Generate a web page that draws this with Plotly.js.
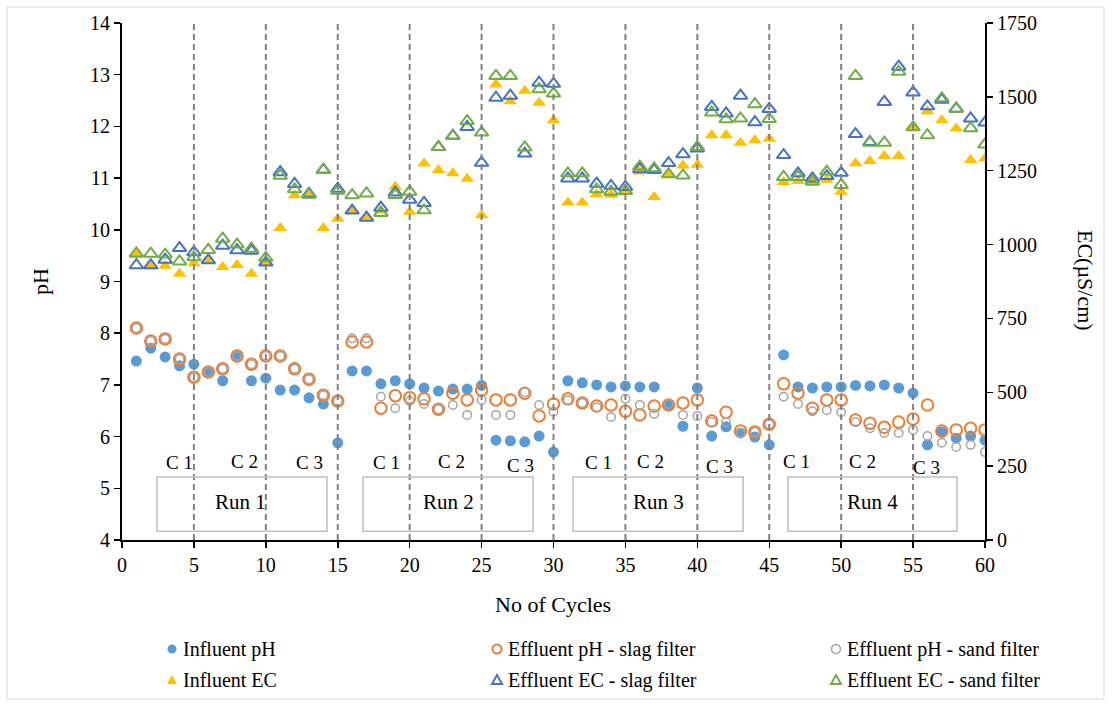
<!DOCTYPE html>
<html>
<head>
<meta charset="utf-8">
<script src="https://cdn.plot.ly/plotly-3.0.1.min.js"></script>
<style>
  html, body { margin: 0; padding: 0; background: #fff; }
  #chart { width: 1117px; height: 705px; }
</style>
</head>
<body>
<div id="chart"></div>
<script>
// Cycle numbers (x axis)
const cycles = [1,2,3,4,5,6,7,8,9,10,11,12,13,14,15,16,17,18,19,20,
  21,22,23,24,25,26,27,28,29,30,31,32,33,34,35,36,37,38,39,40,
  41,42,43,44,45,46,47,48,49,50,51,52,53,54,55,56,57,58,59,60];

// pH series (left axis)
const influentPH = [7.46,7.71,7.54,7.37,7.40,7.25,7.08,7.56,7.08,7.13,
  6.90,6.90,6.75,6.63,5.88,7.27,7.27,7.02,7.08,7.02,
  6.94,6.88,6.92,6.92,6.99,5.93,5.92,5.90,6.01,5.70,
  7.08,7.04,7.00,6.96,6.98,6.96,6.96,6.61,6.20,6.94,
  6.01,6.19,6.07,5.99,5.84,7.58,6.96,6.94,6.96,6.96,
  6.99,6.98,7.00,6.94,6.84,5.84,6.09,5.97,6.01,5.93];
const slagPH = [8.10,7.85,7.89,7.50,7.15,7.25,7.31,7.56,7.40,7.56,
  7.56,7.31,7.11,6.80,6.69,7.83,7.83,6.55,6.79,6.75,
  6.73,6.53,6.84,6.71,6.90,6.71,6.71,6.84,6.40,6.63,
  6.73,6.65,6.59,6.61,6.49,6.42,6.59,6.61,6.65,6.71,
  6.30,6.47,6.11,6.09,6.24,7.02,6.84,6.55,6.71,6.71,
  6.32,6.26,6.18,6.28,6.34,6.61,6.11,6.13,6.16,6.13];
const sandPH = [8.10,7.85,7.89,7.50,7.15,7.25,7.31,7.56,7.40,7.56,
  7.56,7.31,7.11,6.80,6.69,7.90,7.90,6.77,6.55,6.69,
  6.63,6.53,6.61,6.42,6.71,6.42,6.42,6.86,6.61,6.48,
  6.71,6.65,6.57,6.38,6.73,6.61,6.44,6.63,6.42,6.40,
  6.28,6.28,6.07,6.09,6.24,6.77,6.63,6.49,6.51,6.47,
  6.28,6.16,6.07,6.07,6.13,6.01,5.88,5.80,5.84,5.70];

// EC series in µS/cm (right axis)
const influentEC = [965,927,928,901,937,948,924,931,901,939,
  1056,1167,1165,1056,1087,1116,1094,1115,1196,1111,
  1274,1252,1241,1223,1099,1542,1485,1521,1480,1421,
  1142,1142,1170,1169,1180,1247,1161,1239,1268,1270,
  1370,1370,1345,1353,1358,1212,1215,1214,1219,1179,
  1275,1283,1300,1300,1395,1451,1421,1393,1286,1291];
const slagEC = [930,930,949,988,974,947,996,981,979,939,
  1245,1205,1172,1253,1189,1115,1091,1125,1176,1152,
  1141,1330,1368,1398,1277,1497,1504,1308,1548,1544,
  1224,1224,1206,1199,1195,1255,1252,1276,1306,1325,
  1466,1444,1504,1414,1459,1303,1241,1224,1232,1243,
  1374,1347,1483,1602,1515,1468,1490,1460,1427,1413];
const sandEC = [970,969,966,943,957,982,1020,1000,986,955,
  1233,1187,1169,1253,1182,1167,1173,1107,1168,1179,
  1116,1330,1368,1418,1379,1571,1571,1329,1526,1511,
  1241,1241,1187,1179,1181,1264,1258,1238,1234,1331,
  1447,1424,1427,1475,1425,1229,1229,1213,1247,1202,
  1571,1345,1345,1585,1397,1370,1495,1460,1394,1339];

// Run / cycle-block labels
const runLabels = ['Run 1','Run 2','Run 3','Run 4'];
const cycleLabels = ['C 1','C 2','C 3'];
const seriesNames = ['Influent pH','Effluent pH - slag filter','Effluent pH - sand filter',
  'Influent EC','Effluent EC - slag filter','Effluent EC - sand filter'];

const FONT = '"Liberation Serif", "Times New Roman", serif';
const C = {
  blue: '#5B9BD5', orange: '#ED7D31', grey: '#A5A5A5',
  gold: '#FFC000', navy: '#4472C4', green: '#70AD47'
};

const traces = [
  { x: cycles, y: influentPH, name: seriesNames[0], type: 'scatter', mode: 'markers',
    marker: { symbol: 'circle', size: 11, color: C.blue } },
  { x: cycles, y: slagPH, name: seriesNames[1], type: 'scatter', mode: 'markers',
    marker: { symbol: 'circle-open', size: 11.5, color: C.orange, line: { width: 2, color: C.orange } } },
  { x: cycles, y: sandPH, name: seriesNames[2], type: 'scatter', mode: 'markers',
    marker: { symbol: 'circle-open', size: 8.5, color: C.grey, line: { width: 1.5, color: C.grey } } },
  { x: cycles, y: influentEC, name: seriesNames[3], type: 'scatter', mode: 'markers', yaxis: 'y2',
    marker: { symbol: 'triangle-up', size: 12, color: C.gold } },
  { x: cycles, y: slagEC, name: seriesNames[4], type: 'scatter', mode: 'markers', yaxis: 'y2',
    marker: { symbol: 'triangle-up-open', size: 12, color: C.navy, line: { width: 2, color: C.navy } } },
  { x: cycles, y: sandEC, name: seriesNames[5], type: 'scatter', mode: 'markers', yaxis: 'y2',
    marker: { symbol: 'triangle-up-open', size: 12, color: C.green, line: { width: 2, color: C.green } } }
];

const shapes = [];
const annotations = [];

// Chart-area frame
shapes.push({ type: 'rect', xref: 'paper', yref: 'paper', layer: 'below',
  x0: (7 - 122) / 863, x1: (1104 - 122) / 863, y0: (540 - 7) / 517, y1: (540 - 699) / 517,
  line: { color: '#D9D9D9', width: 1 } });

// Dashed separators between cycle blocks
for (let v = 5; v <= 55; v += 5) {
  shapes.push({ type: 'line', xref: 'x', yref: 'paper', x0: v, x1: v, y0: 0, y1: 1,
    line: { color: '#808080', width: 2, dash: '6px,4px' } });
}

// Run boxes with labels
const runBoxes = [[2.43, 14.25], [16.76, 28.58], [31.36, 43.18], [46.30, 58.05]];
const runCentres = [8.27, 22.67, 37.27, 52.2];
runBoxes.forEach((b, i) => {
  shapes.push({ type: 'rect', xref: 'x', yref: 'y', x0: b[0], x1: b[1], y0: 4.17, y1: 5.22,
    line: { color: '#BFBFBF', width: 1.5 }, fillcolor: 'rgba(255,255,255,0)' });
  annotations.push({ xref: 'x', yref: 'y', x: runCentres[i], y: 4.73, text: runLabels[i],
    xanchor: 'center', yanchor: 'middle',
    showarrow: false, font: { family: FONT, size: 21, color: '#000' } });
});

// C 1 / C 2 / C 3 labels above each run box
const cPos = [
  [[4.03, 5.49], [8.55, 5.51], [13.07, 5.49]],
  [[18.36, 5.49], [22.94, 5.51], [27.74, 5.45]],
  [[33.16, 5.49], [36.71, 5.51], [41.51, 5.43]],
  [[46.86, 5.51], [51.45, 5.51], [55.90, 5.41]]
];
cPos.forEach(run => run.forEach((p, j) => {
  annotations.push({ xref: 'x', yref: 'y', x: p[0], y: p[1], text: cycleLabels[j],
    xanchor: 'center', yanchor: 'middle',
    showarrow: false, font: { family: FONT, size: 19, color: '#000' } });
}));

// Axis titles
const px2x = px => (px - 122) / 863;
const px2y = py => (540 - py) / 517;
annotations.push({ xref: 'paper', yref: 'paper', x: px2x(553), y: px2y(604), text: 'No of Cycles',
  xanchor: 'center', yanchor: 'middle',
  showarrow: false, font: { family: FONT, size: 22, color: '#000' } });
annotations.push({ xref: 'paper', yref: 'paper', x: px2x(40), y: px2y(282), text: 'pH', textangle: -90,
  xanchor: 'center', yanchor: 'middle',
  showarrow: false, font: { family: FONT, size: 22, color: '#000' } });
annotations.push({ xref: 'paper', yref: 'paper', x: px2x(1086), y: px2y(280), text: 'EC(µS/cm)', textangle: 90,
  xanchor: 'center', yanchor: 'middle',
  showarrow: false, font: { family: FONT, size: 22, color: '#000' } });

// Legend (two rows of three entries)
const legendCols = [172, 497, 836];
const legendRows = [649, 680];
const legendMarks = [
  { kind: 'circle', fill: C.blue, line: C.blue, w: 0 },
  { kind: 'circle', fill: 'rgba(0,0,0,0)', line: C.orange, w: 2 },
  { kind: 'circle', fill: 'rgba(0,0,0,0)', line: C.grey, w: 1.5 },
  { kind: 'tri', fill: C.gold, line: C.gold, w: 0 },
  { kind: 'tri', fill: 'rgba(0,0,0,0)', line: C.navy, w: 2 },
  { kind: 'tri', fill: 'rgba(0,0,0,0)', line: C.green, w: 2 }
];
legendMarks.forEach((m, i) => {
  const cx = legendCols[i % 3], cy = legendRows[Math.floor(i / 3)];
  const base = { xref: 'paper', yref: 'paper', xsizemode: 'pixel', ysizemode: 'pixel',
    xanchor: px2x(cx), yanchor: px2y(cy), fillcolor: m.fill,
    line: { color: m.line, width: m.w } };
  if (m.kind === 'circle') {
    shapes.push(Object.assign({ type: 'circle', x0: -4.5, x1: 4.5, y0: -4.5, y1: 4.5 }, base));
  } else {
    shapes.push(Object.assign({ type: 'path', path: 'M-5,-4 L5,-4 L0,5 Z' }, base));
  }
  annotations.push({ xref: 'paper', yref: 'paper', x: px2x(cx + 9), y: px2y(cy),
    xanchor: 'left', yanchor: 'middle',
    text: seriesNames[i], showarrow: false, font: { family: FONT, size: 20, color: '#000' } });
});

const axisCommon = {
  showgrid: false, zeroline: false, showline: true, linecolor: '#000', linewidth: 2,
  ticks: 'outside', ticklen: 6, tickwidth: 1.5, tickcolor: '#000',
  tickfont: { family: FONT, size: 20, color: '#000' }
};

const layout = {
  width: 1117, height: 705,
  margin: { l: 122, r: 132, t: 23, b: 165 },
  paper_bgcolor: '#fff', plot_bgcolor: 'rgba(0,0,0,0)',
  showlegend: false,
  xaxis: Object.assign({}, axisCommon, { range: [0, 60], dtick: 5, tick0: 0 }),
  yaxis: Object.assign({}, axisCommon, { range: [4, 14], dtick: 1, tick0: 4 }),
  yaxis2: Object.assign({}, axisCommon, { range: [0, 1750], dtick: 250, tick0: 0,
    overlaying: 'y', side: 'right' }),
  shapes: shapes,
  annotations: annotations
};

Plotly.newPlot('chart', traces, layout, { displayModeBar: false, staticPlot: true });
</script>
</body>
</html>
